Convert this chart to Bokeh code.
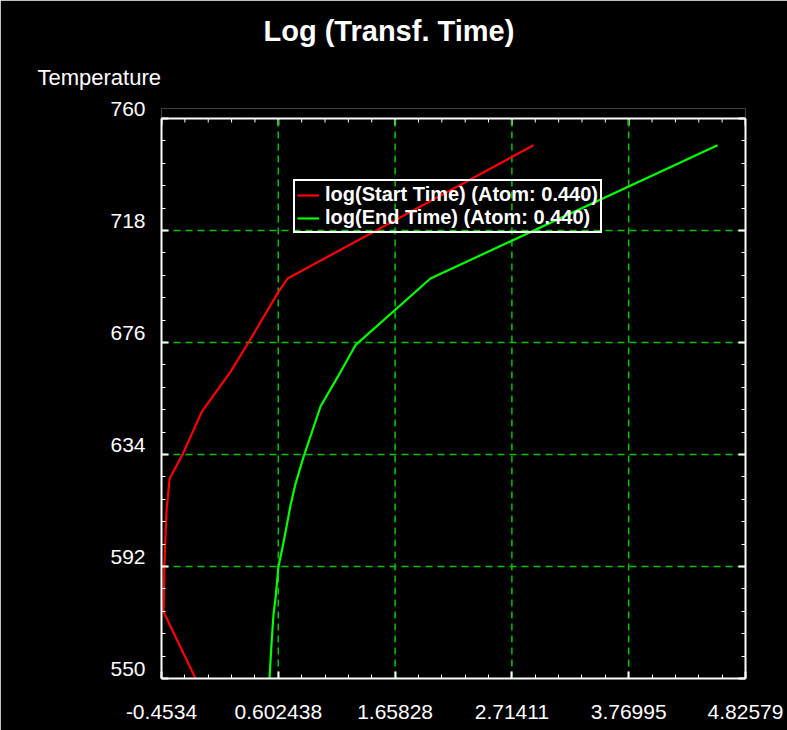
from bokeh.plotting import figure
from bokeh.models import (LinearAxis, FixedTicker, Legend, LegendItem,
                          Range1d, Grid, Title, Span)
from bokeh.embed import file_html
from bokeh.resources import INLINE
import numpy as np

# ---- data ----
x_ticks = [-0.4534, 0.602438, 1.65828, 2.71411, 3.76995, 4.82579]
x_tick_labels = ["-0.4534", "0.602438", "1.65828", "2.71411", "3.76995", "4.82579"]
y_ticks = [550, 592, 634, 676, 718, 760]
y_tick_labels = ["550", "592", "634", "676", "718", "760"]

start_temp = [550, 575, 594, 613, 625, 634, 650, 665, 676, 695, 700, 750]
start_log = [-0.146, -0.435, -0.426, -0.408, -0.38, -0.263, -0.09, 0.17, 0.333, 0.604, 0.686, 2.909]

end_temp = [550, 563, 574, 580, 592, 599, 605, 615, 623, 633, 652, 663, 675, 700, 750]
end_log = [0.523, 0.541, 0.559, 0.577, 0.604, 0.640, 0.668, 0.713, 0.758, 0.830, 0.984, 1.138, 1.300, 1.978, 4.573]

title_text = "Log (Transf. Time)"
y_title_text = "Temperature"
start_label = "log(Start Time) (Atom: 0.440)"
end_label = "log(End Time) (Atom: 0.440)"

FONT = "Liberation Sans"

# ---- layout constants ----
FW, FH_PLOT = 584, 560           # plotting box (pixels)
LIFT = 10                        # y tick labels sit this many px above ticks
XS = (x_ticks[-1] - x_ticks[0]) / FW
YS = (y_ticks[-1] - y_ticks[0]) / FH_PLOT
Y_TOP = y_ticks[-1] + LIFT * YS


def minor_of(ticks, n=5):
    out = []
    for a, b in zip(ticks[:-1], ticks[1:]):
        out.extend(list(np.linspace(a, b, n + 1)[1:-1]))
    return out


p = figure(frame_width=FW, frame_height=FH_PLOT + LIFT,
           x_range=Range1d(x_ticks[0], x_ticks[-1]),
           y_range=Range1d(y_ticks[0], Y_TOP),
           output_backend="svg", toolbar_location=None,
           x_axis_location=None, y_axis_location=None,
           background_fill_color="black", border_fill_color="black",
           min_border_left=161, min_border_right=42,
           min_border_top=118 - LIFT, min_border_bottom=52)
p.outline_line_color = None
p.outline_line_alpha = 0
p.title.visible = False
p.extra_y_ranges = {"lab": Range1d(y_ticks[0] - LIFT * YS, y_ticks[-1])}

x_minor = minor_of(x_ticks)
xticker = FixedTicker(ticks=x_ticks, minor_ticks=x_minor)
yticker = FixedTicker(ticks=y_ticks, minor_ticks=minor_of(y_ticks))


def style_axis(ax):
    ax.axis_line_color = "white"
    ax.axis_line_width = 2
    ax.major_tick_line_color = "white"
    ax.major_tick_line_width = 2
    ax.major_tick_in = 7
    ax.major_tick_out = 0
    ax.minor_tick_line_color = "white"
    ax.minor_tick_line_width = 1
    ax.minor_tick_in = 4
    ax.minor_tick_out = 0
    ax.major_label_text_color = "white"
    ax.major_label_text_font = FONT
    ax.major_label_text_font_size = "21px"


bx = LinearAxis(ticker=xticker,
                major_label_overrides=dict(zip(x_ticks, x_tick_labels)))
style_axis(bx)
bx.major_label_standoff = 26
p.add_layout(bx, "below")

ly = LinearAxis(ticker=yticker, bounds=(y_ticks[0], y_ticks[-1]),
                major_label_overrides={t: "" for t in y_ticks})
style_axis(ly)
ly.major_label_standoff = 0
p.add_layout(ly, "left")

ll = LinearAxis(y_range_name="lab", ticker=FixedTicker(ticks=y_ticks),
                major_label_overrides=dict(zip(y_ticks, y_tick_labels)))
style_axis(ll)
ll.axis_line_color = None
ll.major_tick_line_color = None
ll.minor_tick_line_color = None
ll.major_tick_in = 0
ll.minor_tick_in = 0
ll.major_label_standoff = 16
p.add_layout(ll, "left")

ry = LinearAxis(ticker=yticker, bounds=(y_ticks[0], y_ticks[-1]),
                major_label_overrides={t: "" for t in y_ticks})
style_axis(ry)
ry.major_label_standoff = 0
p.add_layout(ry, "right")

# top border with inward ticks at the 760 line
p.add_layout(Span(location=y_ticks[-1], dimension="width",
                  line_color="white", line_width=2))
p.segment(x0=x_ticks, y0=[y_ticks[-1]] * len(x_ticks),
          x1=x_ticks, y1=[y_ticks[-1] - 7 * YS] * len(x_ticks),
          line_color="white", line_width=2)
p.segment(x0=x_minor, y0=[y_ticks[-1]] * len(x_minor),
          x1=x_minor, y1=[y_ticks[-1] - 4 * YS] * len(x_minor),
          line_color="white", line_width=1)

# grids only on interior ticks
p.xgrid.visible = False
p.ygrid.visible = False
gy = Grid(dimension=1, ticker=FixedTicker(ticks=y_ticks[1:-1]),
          grid_line_color="#00c800", grid_line_dash="7 5", grid_line_width=1.5)
p.add_layout(gy)
gxs = x_ticks[1:-1]
p.segment(x0=gxs, y0=[y_ticks[0]] * len(gxs), x1=gxs, y1=[y_ticks[-1]] * len(gxs),
          line_color="#00c800", line_dash="7 5", line_width=1.5)

r1 = p.line(start_log, start_temp, line_color="#ff0000", line_width=2.2)
r2 = p.line(end_log, end_temp, line_color="#00ff00", line_width=2.2)

legend = Legend(items=[LegendItem(label=start_label, renderers=[r1]),
                       LegendItem(label=end_label, renderers=[r2])],
                location=(132, 445),
                background_fill_alpha=0,
                border_line_color="white", border_line_width=2,
                border_line_alpha=1.0,
                label_text_color="white", label_text_font=FONT,
                label_text_font_style="bold", label_text_font_size="20px",
                glyph_width=22, glyph_height=18, label_height=18,
                label_standoff=6, padding=2, spacing=0, margin=0)
p.add_layout(legend, "center")

t_y = Title(text=y_title_text, align="left", offset=-124,
            vertical_align="top", standoff=33)
t_y.text_color = "white"
t_y.text_font = FONT
t_y.text_font_size = "22px"
t_y.text_font_style = "normal"
p.add_layout(t_y, "above")

t_main = Title(text=title_text, align="left", offset=102,
               vertical_align="top", standoff=0)
t_main.text_color = "white"
t_main.text_font = FONT
t_main.text_font_size = "29px"
t_main.text_font_style = "bold"
p.add_layout(t_main, "above")

open("out.html", "w").write(file_html(p, INLINE))
